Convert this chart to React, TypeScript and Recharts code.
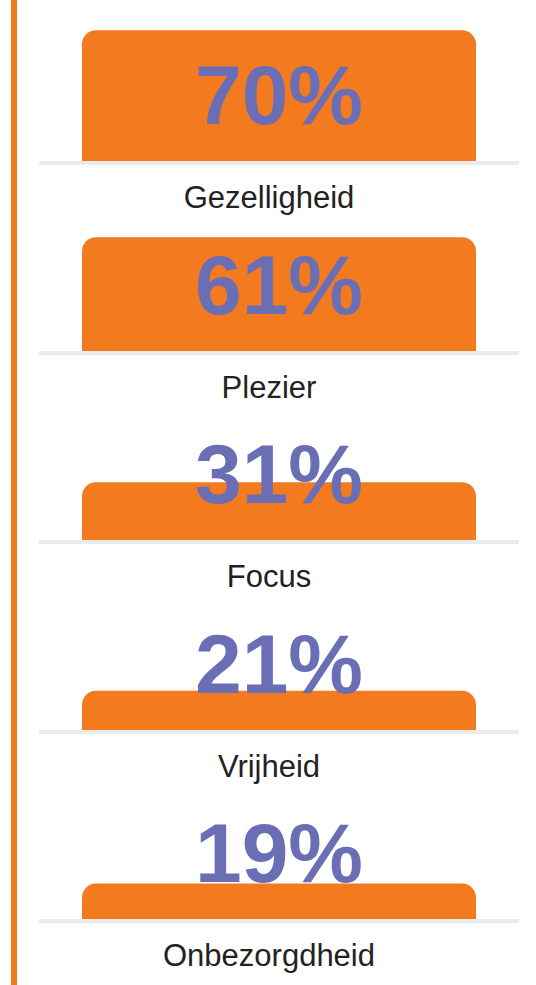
import { BarChart, Bar, XAxis, YAxis, LabelList } from "recharts";

const categories = ["Gezelligheid", "Plezier", "Focus", "Vrijheid", "Onbezorgdheid"];
const values = [70, 61, 31, 21, 19];

const ORANGE = "#f47a20";
const PURPLE = "#6a6fb5";
const FONT = "'Liberation Sans', Arial, Helvetica, sans-serif";

const PANEL_TOP = 21;
const PANEL_STEP = 189.6;

const Panel = ({ name, value }: { name: string; value: number }) => {
  const data = [{ name, value }];
  return (
    <BarChart
      width={536}
      height={205}
      data={data}
      margin={{ top: 0, right: 17, bottom: 0, left: 39 }}
      style={{ overflow: "visible" }}
    >
      <XAxis
        dataKey="name"
        height={65}
        tickLine={false}
        tickSize={0}
        tickMargin={25}
        axisLine={{ stroke: "#ebebeb", strokeWidth: 4, transform: "translate(0,2)" }}
        tick={{ fill: "#222", fontSize: 31, fontFamily: FONT, dx: -10 }}
      />
      <YAxis hide domain={[0, 75]} />
      <Bar
        dataKey="value"
        fill={ORANGE}
        barSize={394}
        radius={[14, 14, 0, 0]}
        isAnimationActive={false}
      >
        <LabelList
          dataKey="value"
          position="insideBottom"
          offset={37}
          formatter={(v: any) => `${v}%`}
          style={{ fill: PURPLE, fontSize: 84, fontWeight: 700, fontFamily: FONT }}
        />
      </Bar>
    </BarChart>
  );
};

export default function App() {
  return (
    <div
      style={{
        position: "absolute",
        left: 0,
        top: 0,
        width: 536,
        height: 985,
        background: "#fff",
        overflow: "hidden",
        fontFamily: FONT,
      }}
    >
      <div
        style={{
          position: "absolute",
          left: 11,
          top: 0,
          width: 6,
          height: 985,
          background: ORANGE,
        }}
      />
      {categories.map((c, i) => (
        <div
          key={c}
          style={{
            position: "absolute",
            left: 0,
            top: Math.round(PANEL_TOP + i * PANEL_STEP),
          }}
        >
          <Panel name={c} value={values[i]} />
        </div>
      ))}
    </div>
  );
}
